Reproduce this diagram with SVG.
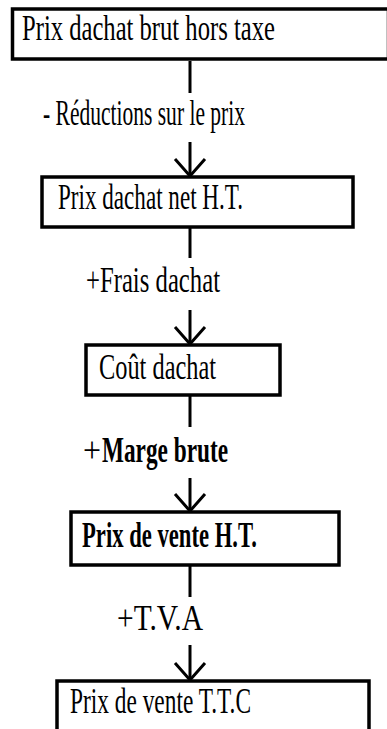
<svg xmlns="http://www.w3.org/2000/svg" width="387" height="729" viewBox="0 0 387 729">
<defs>
<style>
.box{fill:#fff;stroke:#000;stroke-width:3.5}
.t{font-family:"Liberation Serif","Times New Roman",serif;font-size:36px;fill:#000}
.b{font-weight:bold}
.c{fill:none;stroke:#000;stroke-width:3}
</style>
<marker id="v" markerUnits="userSpaceOnUse" markerWidth="40" markerHeight="40" refX="0" refY="0" orient="auto" overflow="visible">
<path d="M-17 -15 L0 0 L-17 15" fill="none" stroke="#000" stroke-width="3"/>
</marker>
</defs>
<rect width="387" height="729" fill="#fff"/>
<g id="connectors">
<path class="c" d="M190 61 V93"/>
<path class="c" d="M190 142 V176" marker-end="url(#v)"/>
<path class="c" d="M190 228 V258"/>
<path class="c" d="M190 310 V344" marker-end="url(#v)"/>
<path class="c" d="M190 396 V427"/>
<path class="c" d="M190 478 V511" marker-end="url(#v)"/>
<path class="c" d="M190 566 V597"/>
<path class="c" d="M190 645 V680" marker-end="url(#v)"/>
</g>
<g id="labels">
<text class="t" x="43" y="125" textLength="202" lengthAdjust="spacingAndGlyphs">- Réductions sur le prix</text>
<text class="t" x="86" y="292" textLength="134" lengthAdjust="spacingAndGlyphs">+Frais dachat</text>
<text class="t" x="83" y="462" textLength="18" lengthAdjust="spacingAndGlyphs">+</text>
<text class="t b" x="102" y="462" textLength="126" lengthAdjust="spacingAndGlyphs">Marge brute</text>
<text class="t" x="117" y="630" textLength="86" lengthAdjust="spacingAndGlyphs">+T.V.A</text>
</g>
<g id="n1">
<rect class="box" x="12.5" y="9" width="376" height="50"/>
<text class="t" transform="translate(22 40) scale(0.684 1)" x="0" y="0">Prix dachat brut hors taxe</text>
</g>
<g id="n2">
<rect class="box" x="42" y="177" width="311" height="50"/>
<text class="t" x="58" y="209" textLength="185" lengthAdjust="spacingAndGlyphs">Prix dachat net H.T.</text>
</g>
<g id="n3">
<rect class="box" x="86" y="345" width="194" height="50"/>
<text class="t" x="99" y="379" textLength="117" lengthAdjust="spacingAndGlyphs">Coût dachat</text>
</g>
<g id="n4">
<rect class="box" x="71" y="512" width="268" height="53"/>
<text class="t b" x="82" y="547" textLength="175" lengthAdjust="spacingAndGlyphs">Prix de vente H.T.</text>
</g>
<g id="n5">
<rect class="box" x="57" y="681" width="312" height="80"/>
<text class="t" x="70" y="713" textLength="181" lengthAdjust="spacingAndGlyphs">Prix de vente T.T.C</text>
</g>
</svg>
